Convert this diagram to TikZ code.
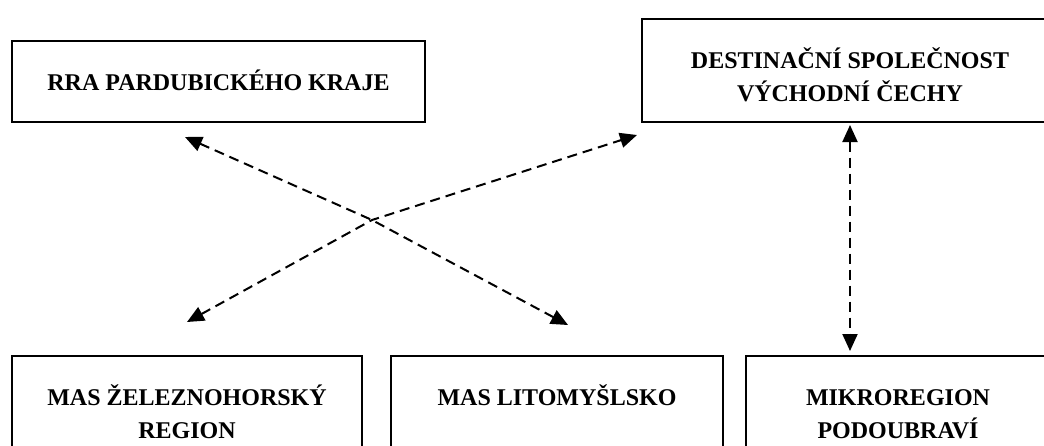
\documentclass[tikz,border=0pt]{standalone}
\usepackage{fontspec}
\setmainfont{Liberation Serif}
\usetikzlibrary{arrows.meta}
\tikzset{
  orgbox/.style={draw, line width=2pt, inner sep=0pt, outer sep=0pt,
    anchor=north west, align=center,
    font=\fontsize{24}{33}\selectfont\bfseries},
  link/.style={line width=2pt, dash pattern=on 10pt off 6pt,
    {Triangle[length=17pt,width=15pt]}-{Triangle[length=17pt,width=15pt]}}
}
\begin{document}
\begin{tikzpicture}[x=1pt,y=-1pt]
  \useasboundingbox (0,0) rectangle (1044,445);
  \clip (0,0) rectangle (1044,445);
  % horni rada
  \node[orgbox, minimum width=413pt, minimum height=81pt, text height=49pt, text depth=32pt] (rra) at (12,41) {RRA PARDUBICKÉHO KRAJE};
  \node[orgbox, minimum width=416pt, minimum height=103pt, text height=82pt, text depth=21pt] (dest) at (642,19) {DESTINAČNÍ SPOLEČNOST\\VÝCHODNÍ ČECHY};
  % dolni rada
  \node[orgbox, minimum width=350pt, minimum height=124pt, text height=82pt, text depth=42pt] (masz) at (12,356) {MAS ŽELEZNOHORSKÝ\\REGION};
  \node[orgbox, minimum width=332pt, minimum height=124pt, text height=49pt, text depth=75pt] (masl) at (391,356) {MAS LITOMYŠLSKO};
  \node[orgbox, minimum width=304pt, minimum height=124pt, text height=82pt, text depth=42pt] (mikro) at (746,356) {MIKROREGION\\PODOUBRAVÍ};
  % vazby
  \coordinate (rraend) at (185,137);
  \coordinate (maslend) at (568,325);
  \coordinate (maszend) at (187,322);
  \coordinate (destend) at (637,135);
  \coordinate (cross) at (372,220);
  \draw[link] (rraend) -- (cross) -- (maslend);
  \draw[link] (maszend) -- (cross) -- (destend);
  \draw[link, shorten <=3pt, shorten >=5pt] (dest.south) -- (dest.south |- mikro.north);
\end{tikzpicture}
\end{document}
